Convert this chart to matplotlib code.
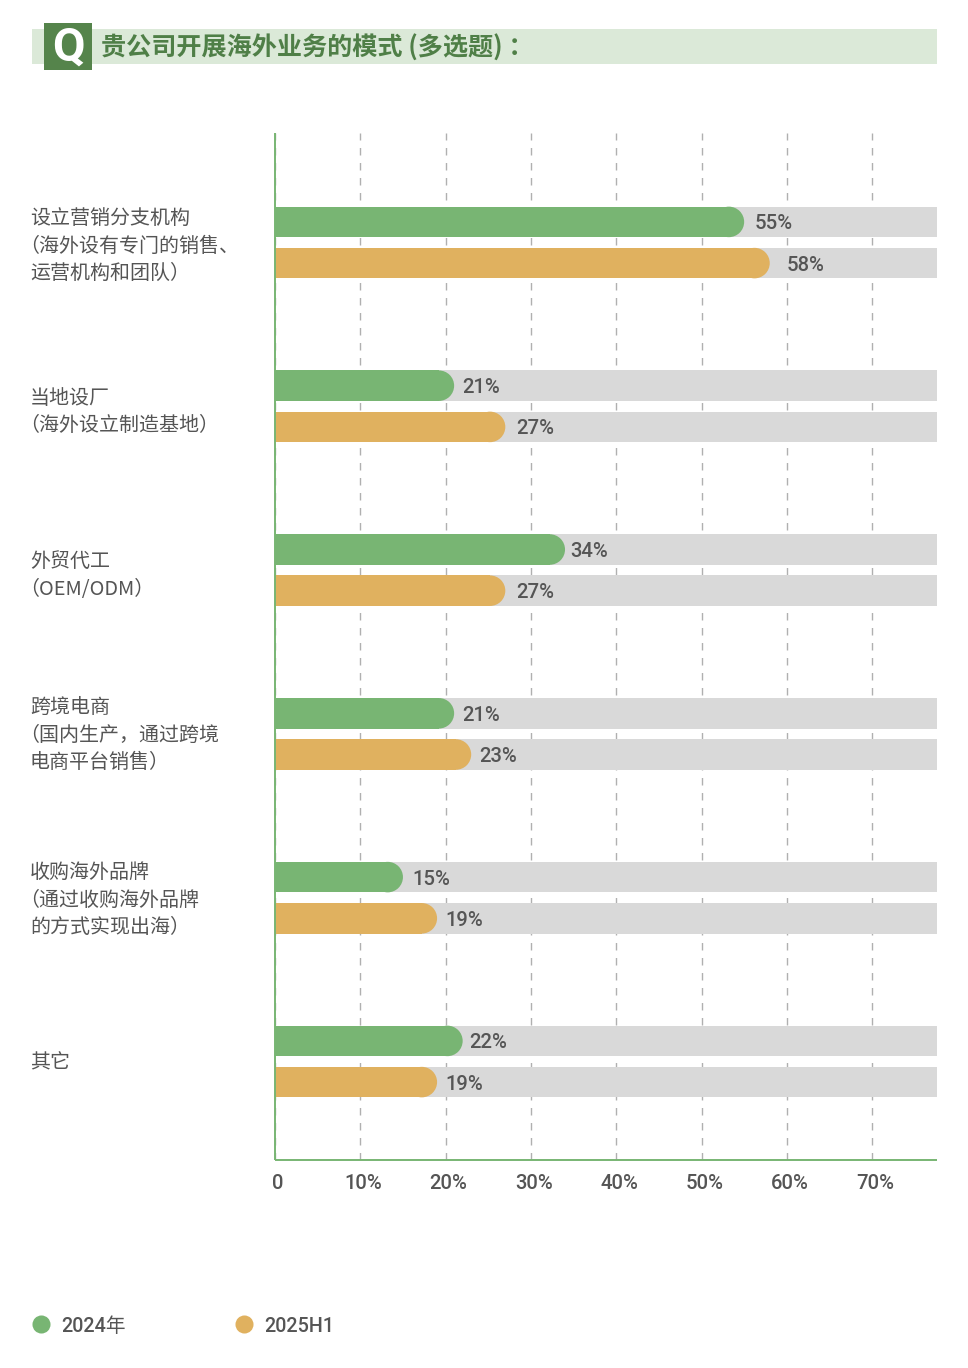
import matplotlib
matplotlib.use("Agg")
import matplotlib.pyplot as plt
from matplotlib.lines import Line2D
from matplotlib.patches import Ellipse, Rectangle
from matplotlib.transforms import ScaledTranslation

plt.rcParams['font.family'] = ['Roboto', 'Noto Sans CJK SC', 'DejaVu Sans']

title = "贵公司开展海外业务的模式 (多选题) ："
categories = [
    ["设立营销分支机构", "（海外设有专门的销售、", "运营机构和团队）"],
    ["当地设厂", "（海外设立制造基地）"],
    ["外贸代工", "（OEM/ODM）"],
    ["跨境电商", "（国内生产，通过跨境", "电商平台销售）"],
    ["收购海外品牌", "（通过收购海外品牌", "的方式实现出海）"],
    ["其它"],
]
series_names = ["2024年", "2025H1"]
values_2024 = [55, 21, 34, 21, 15, 22]
values_2025 = [58, 27, 27, 23, 19, 19]
x_ticks = [0, 10, 20, 30, 40, 50, 60, 70]
x_tick_labels = ["0", "10%", "20%", "30%", "40%", "50%", "60%", "70%"]

GREEN = "#78b573"
ORANGE = "#e0b15f"
TRACK = "#d9d9d9"
TEXT = "#555555"
W, H = 968, 1368

# layout, all in pixels of the reference
label_gaps_2024 = [10, 8, 5, 8, 9, 7]
label_gaps_2025 = [17, 11, 11, 8, 8, 8]
label_centres = [246, 412, 575.5, 735, 900, 1063]


def px_x(x):
    return x / W


def px_y(y):
    return 1 - y / H


fig = plt.figure(figsize=(W / 100, H / 100), dpi=100, facecolor="white")

# header band
fig.add_artist(Rectangle((px_x(32), px_y(64)), 905 / W, 35 / H, transform=fig.transFigure,
                         facecolor="#dbe9d8", edgecolor="none"))
fig.add_artist(Rectangle((px_x(44), px_y(70)), 48 / W, 47 / H, transform=fig.transFigure,
                         facecolor="#55844b", edgecolor="none"))
fig.text(px_x(68), px_y(48), "Q", color="white", fontsize=34, fontweight="bold",
         ha="center", va="center", family=["Roboto", "DejaVu Sans"])
fig.text(px_x(101), px_y(48.5), title, color="#4f7f47", fontsize=18.1, fontweight="bold",
         ha="left", va="center", family=["Noto Sans CJK SC", "DejaVu Sans"])

ax = fig.add_axes([px_x(275), px_y(1160), 662 / W, 1027 / H])
group_px = 163.8
px_per_pct = 8.53
ax.set_xlim(0, 662 / px_per_pct)
ax.set_ylim((1160 - 242.5) / group_px, (133 - 242.5) / group_px)
offset = 20.6 / group_px
bar_h = 30.5 / group_px
rx = 15.25 / px_per_pct

ax.set_xticks(x_ticks)
ax.set_xticklabels(x_tick_labels, fontsize=14.6, color=TEXT, fontweight="medium")
ax.tick_params(axis="x", length=0, pad=10)
ax.tick_params(axis="y", left=False, labelleft=False)
shift = ScaledTranslation(3 / 100, 0, fig.dpi_scale_trans)
for lab in ax.get_xticklabels():
    lab.set_transform(lab.get_transform() + shift)

ax.grid(axis="x", color="#b0b0b0", linewidth=1, linestyle=(0, (5.4, 5.4)), zorder=1)
ax.set_axisbelow(True)
for side in ["top", "right"]:
    ax.spines[side].set_visible(False)
for side in ["left", "bottom"]:
    ax.spines[side].set_color(GREEN)
    ax.spines[side].set_linewidth(1.4)
    ax.spines[side].set_zorder(6)
    ax.spines[side].set_capstyle("butt")

for i in range(len(categories)):
    for vals, sign, colour, gaps in [(values_2024, -1, GREEN, label_gaps_2024),
                                     (values_2025, 1, ORANGE, label_gaps_2025)]:
        y = i + sign * offset
        v = vals[i]
        ax.barh(y, ax.get_xlim()[1], height=bar_h, color=TRACK, zorder=2)
        ax.barh(y, v - rx, height=bar_h, color=colour, zorder=3)
        ax.add_patch(Ellipse((v - rx, y), 2 * rx, bar_h, facecolor=colour, edgecolor="none", zorder=3))
        ax.annotate(f"{v}%", (v, y), xytext=(gaps[i] * 0.72, -1.5), textcoords="offset points",
                    ha="left", va="center", fontsize=14.6, color=TEXT, fontweight="medium", zorder=5)

# category labels, one text per line so the leading bracket can sit tight on the margin
line_px = 27.5
for lines, centre in zip(categories, label_centres):
    top = centre - line_px * (len(lines) - 1) / 2
    for k, line in enumerate(lines):
        x = 19 if line.startswith("（") else 30
        fig.text(px_x(x), px_y(top + k * line_px), line, fontsize=14.4, color=TEXT,
                 ha="left", va="center", family=["Noto Sans CJK SC", "DejaVu Sans"])

# legend
for x, name, colour in [(41, series_names[0], GREEN), (244, series_names[1], ORANGE)]:
    fig.add_artist(Line2D([px_x(x)], [px_y(1324)], transform=fig.transFigure, marker="o",
                          markersize=13, color=colour, markeredgecolor="none", linestyle="none"))
    fig.text(px_x(x + 20.5), px_y(1326), name, fontsize=14.2, color=TEXT, ha="left", va="center",
             fontweight="medium")

fig.savefig("out.png", dpi=100)
